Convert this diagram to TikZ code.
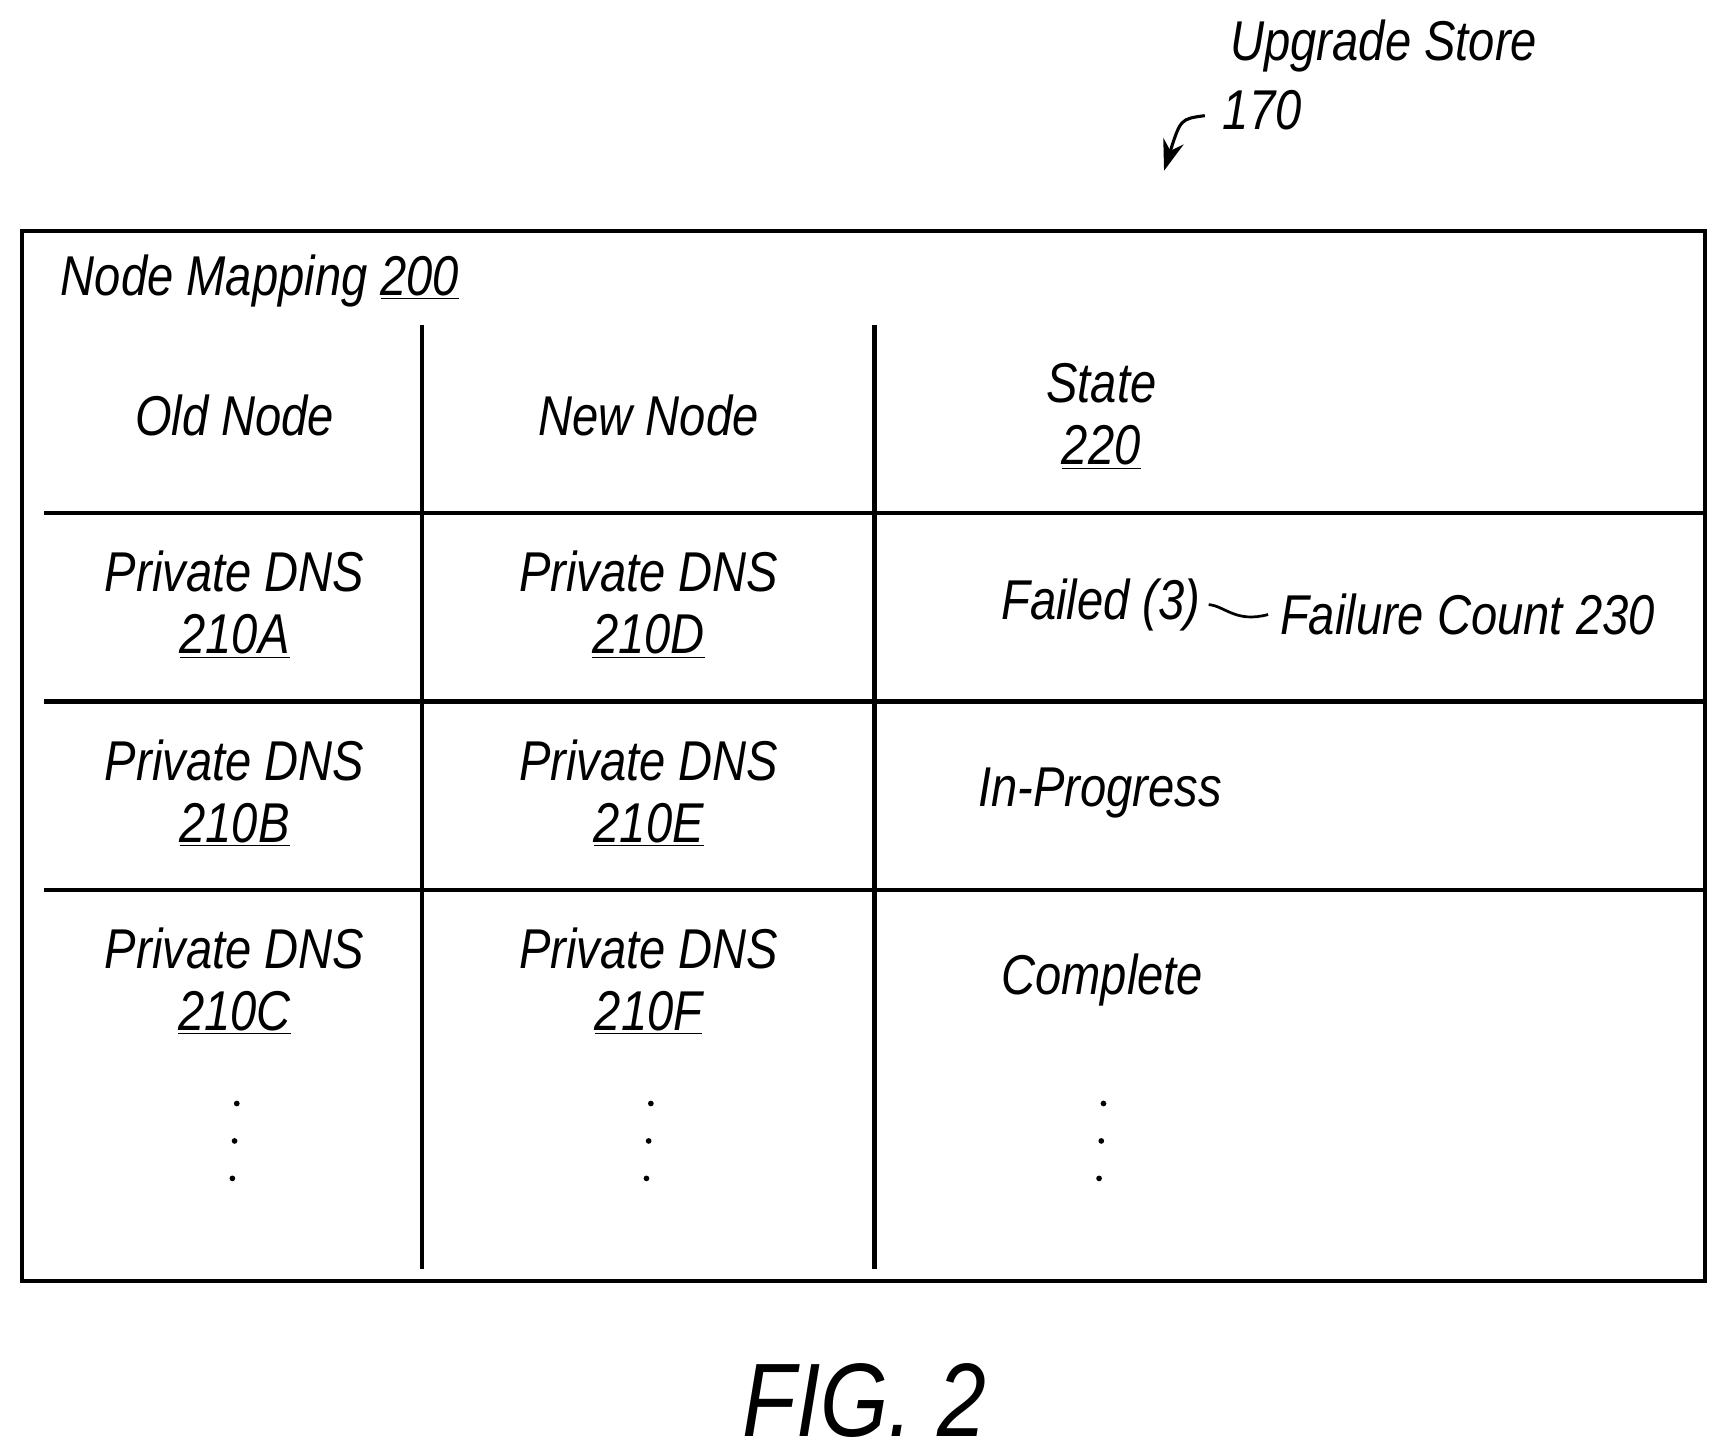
\documentclass[tikz,border=0pt]{standalone}
\usepackage{fontspec}
\setmainfont{Liberation Sans}[FakeStretch=0.84]
\usetikzlibrary{arrows.meta}
\begin{document}
\begin{tikzpicture}[x=0.02cm,y=-0.02cm,
    txt/.style={font=\fontsize{29}{32}\selectfont\itshape, inner sep=0pt, align=center},
    rule/.style={line width=2.2pt}]
    \useasboundingbox (0,0) rectangle (1560,1320);

    % Title and reference
    \node[txt, anchor=west] (store) at (1117,42) {Upgrade Store};
    \node[txt, anchor=west] (ref) at (1110,100) {170};
    \coordinate (tip) at (1057,155);
    \draw[line width=1.6pt, -{Stealth[length=16pt,width=11pt]}] (ref.west) ++(-16,5) .. controls (1072,108) .. (tip);

    % Outer box and grid
    \draw[rule] (20,210) rectangle (1548,1163);
    \foreach \x in {383, 794}
        \draw[rule] (\x,295) -- (\x,1152);
    \foreach \y in {466, 637, 808}
        \draw[rule] (40,\y) -- (1548,\y);

    % Headers
    \node[txt, anchor=west] (map) at (55,255) {Node Mapping \underline{200}};
    \node[txt] (old) at (213,377) {Old Node};
    \node[txt] (new) at (589,377) {New Node};
    \node[txt] (state) at (1000,378) {State\\\underline{220}};

    % Rows
    \foreach \l [count=\i] in {A, B, C}
        \node[txt] (old-\i) at (213,379+\i*171-1) {Private DNS\\\underline{210\l}};
    \foreach \l [count=\i] in {D, E, F}
        \node[txt] (new-\i) at (589,379+\i*171-1) {Private DNS\\\underline{210\l}};
    \node[txt, anchor=west] (failed) at (909,549) {Failed (3)};
    \node[txt, anchor=west] (count) at (1162,558) {Failure Count 230};
    \draw[line width=1.4pt] ([xshift=4pt]failed.east) .. controls (1112,550) and (1122,566) .. ([xshift=-6pt]count.west);
    \node[txt, anchor=west] (prog) at (888,720) {In-Progress};
    \node[txt, anchor=west] (done) at (909,890) {Complete};

    % Dots
    \foreach \x in {213, 589, 1000}
        \foreach \d in {0,1,2}
            \fill (\x+2-\d*2,1002+\d*34) circle (2.6);

    % Caption
    \node[font=\fontsize{54}{58}\selectfont\itshape, inner sep=0pt] (fig) at (785,1272) {FIG. 2};
\end{tikzpicture}
\end{document}
